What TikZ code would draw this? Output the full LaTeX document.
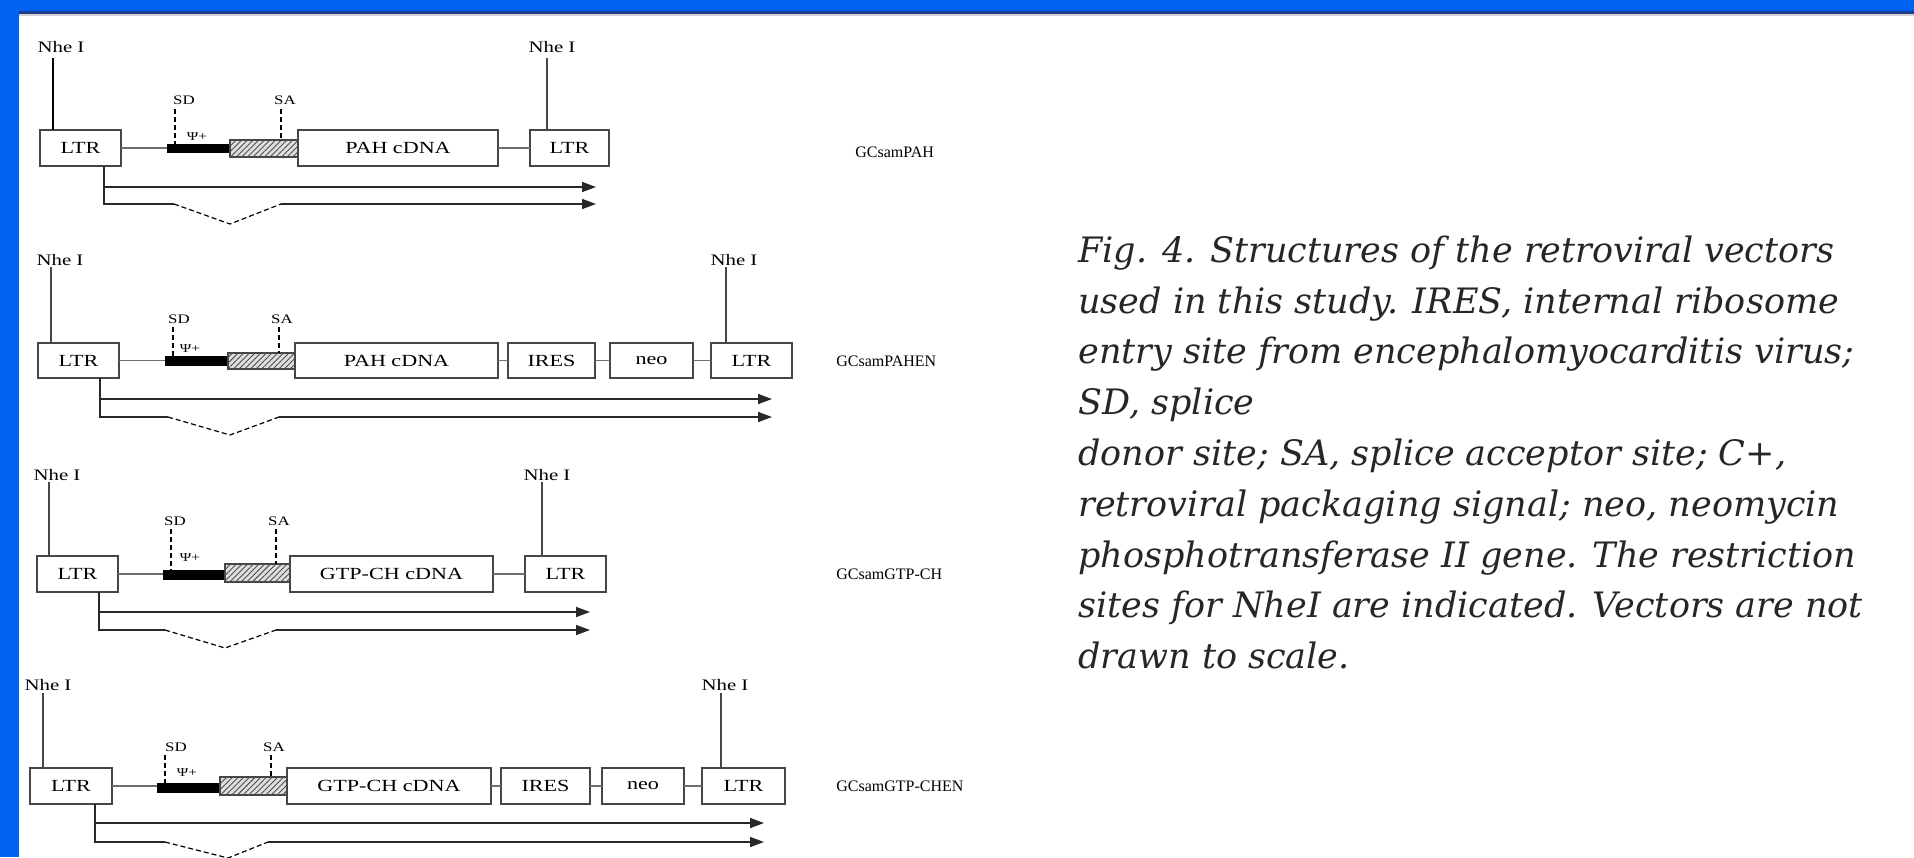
\documentclass[tikz,border=0pt]{standalone}
\usepackage{fontspec}
\setmainfont{Liberation Serif}
\newfontfamily\figfont[FakeStretch=1.3]{Liberation Serif}
\newfontfamily\capfont{DejaVu Serif}
\usetikzlibrary{arrows.meta,patterns.meta,calc}
\definecolor{band}{RGB}{0,98,240}
\definecolor{bandshade}{RGB}{30,60,140}
\definecolor{boxline}{RGB}{70,70,70}
\definecolor{connline}{RGB}{110,110,110}
\definecolor{arrline}{RGB}{40,40,40}
\newcommand\gbox[7]{\node[#1, minimum width={(#4-#3)*0.5pt}, minimum height={(#6-#5)*0.5pt}] (#2) at ({(#3+#4)/2},{(#5+#6)/2}) {#7};}
\tikzset{
 blk/.style={draw=boxline, line width=0.9pt, fill=white, inner sep=0pt, outer sep=0pt, font=\figfont\fontsize{8.5}{9}\selectfont},
 psibar/.style={fill=black, draw=black, line width=0.3pt, inner sep=0pt, outer sep=0pt},
 hatchbox/.style={draw=boxline, line width=0.6pt, fill=gray!25, postaction={pattern={Lines[angle=45,distance=2pt,line width=0.45pt]}, pattern color=gray!60!black}, inner sep=0pt, outer sep=0pt},
 conn/.style={draw=connline, line width=0.7pt},
 siteline/.style={draw=boxline, line width=0.6pt},
 spl/.style={draw=black, line width=0.6pt, dash pattern=on 2.5pt off 1.5pt},
 tx/.style={draw=arrline, line width=0.8pt},
 txa/.style={tx, -{Triangle[length=7pt,width=5pt]}},
 nhe/.style={font=\figfont\fontsize{8}{9}\selectfont, inner sep=0pt},
 sdsa/.style={font=\figfont\fontsize{6.5}{7}\selectfont, inner sep=0pt},
 psi/.style={font=\figfont\fontsize{6}{7}\selectfont, inner sep=0pt},
 vname/.style={font=\fontsize{8}{9}\selectfont, inner sep=0pt, anchor=west},
 capline/.style={font=\capfont\itshape\fontsize{17.5}{20}\selectfont, text=black!85, inner sep=0pt, anchor=base west},
}
\begin{document}
\begin{tikzpicture}[x=0.5pt,y=-0.5pt]
\useasboundingbox (0,0) rectangle (1914,857);
\fill[white] (0,0) rectangle (1914,857);
\fill[band] (0,0) rectangle (1914,11);
\fill[bandshade] (0,11) rectangle (1914,14);
\fill[gray!35] (0,14) rectangle (1914,16);
\fill[band] (0,0) rectangle (19,857);

% ---------- Row 1: GCsamPAH ----------
\gbox{blk}{aL}{40}{121}{130}{166}{LTR}
\gbox{psibar}{aB}{167}{230}{144}{152}{}
\gbox{hatchbox}{aH}{230}{298}{140}{157}{}
\gbox{blk}{aP}{298}{498}{130}{166}{PAH cDNA}
\gbox{blk}{aR}{530}{609}{130}{166}{LTR}
\draw[conn] (aL.east) -- (aL.east -| aB.west);
\draw[conn] (aP.east) -- (aR.west);
\node[nhe] (aN1) at (61,47) {Nhe I};
\coordinate (aN1b) at (53,58);
\draw[siteline, draw=black] (aN1b) -- (aN1b |- aL.north);
\node[nhe] (aN2) at (552,47) {Nhe I};
\coordinate (aN2b) at (547,58);
\draw[siteline] (aN2b) -- (aN2b |- aR.north);
\node[sdsa] (aSD) at (184,100) {SD};
\coordinate (aSDb) at (175,109);
\draw[spl] (aSDb) -- (aSDb |- aB.north);
\node[psi] (aPsi) at (197,137) {Ψ+};
\node[sdsa] (aSA) at (285,100) {SA};
\coordinate (aSAb) at (281,109);
\draw[spl] (aSAb) -- (aSAb |- aH.north);
\coordinate (aT) at (104,204);
\coordinate (aD1) at (174,204);
\coordinate (aV) at (230,224);
\coordinate (aD2) at (281,204);
\coordinate (aE1) at (596,187);
\coordinate (aE2) at (596,204);
\draw[tx] (aL.south -| aT) -- (aT) -- (aD1);
\draw[txa] (aT |- aE1) -- (aE1);
\draw[spl] (aD1) -- (aV) -- (aD2);
\draw[txa] (aD2) -- (aE2);
\node[vname] (aName) at (855,152) {GCsamPAH};

% ---------- Row 2: GCsamPAHEN ----------
\gbox{blk}{bL}{38}{119}{343}{378}{LTR}
\gbox{psibar}{bB}{165}{228}{356}{365}{}
\gbox{hatchbox}{bH}{228}{295}{353}{369}{}
\gbox{blk}{bP}{295}{498}{343}{378}{PAH cDNA}
\gbox{blk}{bI}{508}{595}{343}{378}{IRES}
\gbox{blk}{bN}{610}{693}{343}{378}{neo}
\gbox{blk}{bR}{711}{792}{343}{378}{LTR}
\draw[conn] (bL.east) -- (bL.east -| bB.west);
\draw[conn] (bP.east) -- (bI.west);
\draw[conn] (bI.east) -- (bN.west);
\draw[conn] (bN.east) -- (bR.west);
\node[nhe] (bN1) at (60,260) {Nhe I};
\coordinate (bN1b) at (51,267);
\draw[siteline] (bN1b) -- (bN1b |- bL.north);
\node[nhe] (bN2) at (734,260) {Nhe I};
\coordinate (bN2b) at (726,267);
\draw[siteline] (bN2b) -- (bN2b |- bR.north);
\node[sdsa] (bSD) at (179,319) {SD};
\coordinate (bSDb) at (173,327);
\draw[spl] (bSDb) -- (bSDb |- bB.north);
\node[psi] (bPsi) at (190,349) {Ψ+};
\node[sdsa] (bSA) at (282,319) {SA};
\coordinate (bSAb) at (279,327);
\draw[spl] (bSAb) -- (bSAb |- bH.north);
\coordinate (bT) at (100,417);
\coordinate (bD1) at (168,417);
\coordinate (bV) at (230,435);
\coordinate (bD2) at (279,417);
\coordinate (bE1) at (772,399);
\coordinate (bE2) at (772,417);
\draw[tx] (bL.south -| bT) -- (bT) -- (bD1);
\draw[txa] (bT |- bE1) -- (bE1);
\draw[spl] (bD1) -- (bV) -- (bD2);
\draw[txa] (bD2) -- (bE2);
\node[vname] (bName) at (836,361) {GCsamPAHEN};

% ---------- Row 3: GCsamGTP-CH ----------
\gbox{blk}{cL}{37}{118}{556}{592}{LTR}
\gbox{psibar}{cB}{163}{225}{570}{579}{}
\gbox{hatchbox}{cH}{225}{290}{564}{582}{}
\gbox{blk}{cP}{290}{493}{556}{592}{GTP-CH cDNA}
\gbox{blk}{cR}{525}{606}{556}{592}{LTR}
\draw[conn] (cL.east) -- (cL.east -| cB.west);
\draw[conn] (cP.east) -- (cR.west);
\node[nhe] (cN1) at (57,475) {Nhe I};
\coordinate (cN1b) at (49,482);
\draw[siteline] (cN1b) -- (cN1b |- cL.north);
\node[nhe] (cN2) at (547,475) {Nhe I};
\coordinate (cN2b) at (542,482);
\draw[siteline] (cN2b) -- (cN2b |- cR.north);
\node[sdsa] (cSD) at (175,521) {SD};
\coordinate (cSDb) at (171,529);
\draw[spl] (cSDb) -- (cSDb |- cB.north);
\node[psi] (cPsi) at (190,558) {Ψ+};
\node[sdsa] (cSA) at (279,521) {SA};
\coordinate (cSAb) at (276,529);
\draw[spl] (cSAb) -- (cSAb |- cH.north);
\coordinate (cT) at (99,630);
\coordinate (cD1) at (165,630);
\coordinate (cV) at (225,648);
\coordinate (cD2) at (276,630);
\coordinate (cE1) at (590,612);
\coordinate (cE2) at (590,630);
\draw[tx] (cL.south -| cT) -- (cT) -- (cD1);
\draw[txa] (cT |- cE1) -- (cE1);
\draw[spl] (cD1) -- (cV) -- (cD2);
\draw[txa] (cD2) -- (cE2);
\node[vname] (cName) at (836,574) {GCsamGTP-CH};

% ---------- Row 4: GCsamGTP-CHEN ----------
\gbox{blk}{dL}{30}{112}{768}{804}{LTR}
\gbox{psibar}{dB}{157}{220}{783}{792}{}
\gbox{hatchbox}{dH}{220}{287}{777}{795}{}
\gbox{blk}{dP}{287}{491}{768}{804}{GTP-CH cDNA}
\gbox{blk}{dI}{501}{590}{768}{804}{IRES}
\gbox{blk}{dN}{602}{684}{768}{804}{neo}
\gbox{blk}{dR}{702}{785}{768}{804}{LTR}
\draw[conn] (dL.east) -- (dL.east -| dB.west);
\draw[conn] (dP.east) -- (dI.west);
\draw[conn] (dI.east) -- (dN.west);
\draw[conn] (dN.east) -- (dR.west);
\node[nhe] (dN1) at (48,685) {Nhe I};
\coordinate (dN1b) at (43,693);
\draw[siteline] (dN1b) -- (dN1b |- dL.north);
\node[nhe] (dN2) at (725,685) {Nhe I};
\coordinate (dN2b) at (721,693);
\draw[siteline] (dN2b) -- (dN2b |- dR.north);
\node[sdsa] (dSD) at (176,747) {SD};
\coordinate (dSDb) at (165,755);
\draw[spl] (dSDb) -- (dSDb |- dB.north);
\node[psi] (dPsi) at (187,773) {Ψ+};
\node[sdsa] (dSA) at (274,747) {SA};
\coordinate (dSAb) at (271,755);
\draw[spl] (dSAb) -- (dSAb |- dH.north);
\coordinate (dT) at (95,842);
\coordinate (dD1) at (165,842);
\coordinate (dV) at (228,858);
\coordinate (dD2) at (268,842);
\coordinate (dE1) at (764,823);
\coordinate (dE2) at (764,842);
\draw[tx] (dL.south -| dT) -- (dT) -- (dD1);
\draw[txa] (dT |- dE1) -- (dE1);
\draw[spl] (dD1) -- (dV) -- (dD2);
\draw[txa] (dD2) -- (dE2);
\node[vname] (dName) at (836,786) {GCsamGTP-CHEN};

% ---------- Caption ----------
\node[capline] (cap1) at (1078,262) {Fig. 4. Structures of the retroviral vectors};
\node[capline] (cap2) at (1078,313) {used in this study. IRES, internal ribosome};
\node[capline] (cap3) at (1078,363) {entry site from encephalomyocarditis virus;};
\node[capline] (cap4) at (1078,414) {SD, splice};
\node[capline] (cap5) at (1078,465) {donor site; SA, splice acceptor site; C+,};
\node[capline] (cap6) at (1078,516) {retroviral packaging signal; neo, neomycin};
\node[capline] (cap7) at (1078,567) {phosphotransferase II gene. The restriction};
\node[capline] (cap8) at (1078,617) {sites for NheI are indicated. Vectors are not};
\node[capline] (cap9) at (1078,668) {drawn to scale.};
\end{tikzpicture}
\end{document}
